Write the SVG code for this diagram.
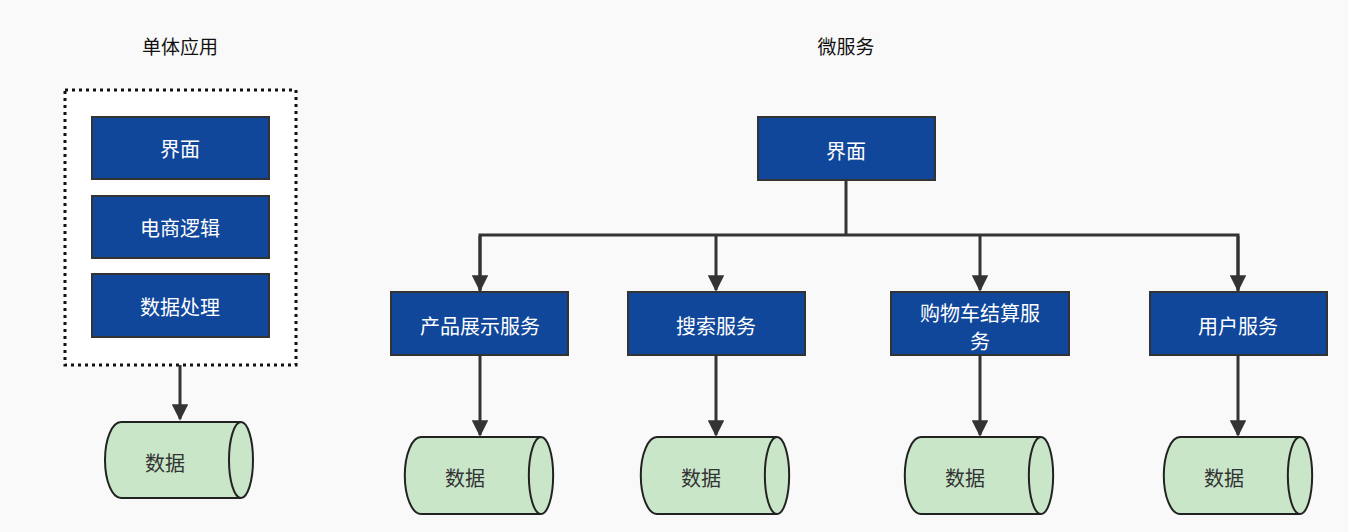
<svg xmlns="http://www.w3.org/2000/svg" width="1348" height="532" viewBox="0 0 1348 532">
<defs>
<style>
text{font-family:"Noto Sans CJK SC","Liberation Sans",sans-serif;font-size:20px;text-anchor:middle;dominant-baseline:central}
.b rect{fill:#10479a;stroke:#333;stroke-width:2}
.b text{fill:#fff}
.c path{fill:#c9e6c9;stroke:#222;stroke-width:2}
.c text{fill:#333}
.t{fill:#111;font-size:19px}
#conn path{fill:none;stroke:#333;stroke-width:3}
</style>
<marker id="a" viewBox="0 0 10 10" refX="9" refY="5" markerWidth="5.5" markerHeight="5.5" orient="auto" markerUnits="strokeWidth"><path d="M0,0L10,5L0,10z" fill="#333"/></marker>
</defs>
<rect width="1348" height="532" fill="#f9f9f9"/>
<text class="t" x="180" y="45">单体应用</text>
<text class="t" x="846" y="45">微服务</text>
<rect id="mono" x="65" y="90" width="231" height="275" fill="#fff" stroke="#111" stroke-width="3" stroke-dasharray="3,4"/>
<g id="conn">
<path d="M180,365V419" marker-end="url(#a)"/>
<path d="M846,180V235"/>
<path d="M480,292V235H1238V292" />
<path d="M480,236V290" marker-end="url(#a)"/>
<path d="M716,236V290" marker-end="url(#a)"/>
<path d="M980,236V290" marker-end="url(#a)"/>
<path d="M1238,236V290" marker-end="url(#a)"/>
<path d="M480,355V435" marker-end="url(#a)"/>
<path d="M716,355V435" marker-end="url(#a)"/>
<path d="M980,355V435" marker-end="url(#a)"/>
<path d="M1238,355V435" marker-end="url(#a)"/>
</g>
<g id="m1" class="b"><rect x="92" y="117" width="177" height="62"/><text x="180" y="148">界面</text></g>
<g id="m2" class="b"><rect x="92" y="196" width="177" height="62"/><text x="180" y="227">电商逻辑</text></g>
<g id="m3" class="b"><rect x="92" y="274" width="177" height="63"/><text x="180" y="306">数据处理</text></g>
<g id="db0" class="c"><path d="M121,422H241A12,38 0 0 1 241,498H121A16,38 0 0 1 121,422Z"/><path d="M241,422A12,38 0 0 0 241,498"/><text x="165" y="462">数据</text></g>
<g id="ui" class="b"><rect x="758" y="117" width="177" height="63"/><text x="846" y="150">界面</text></g>
<g id="s1" class="b"><rect x="391" y="292" width="177" height="63"/><text x="480" y="325">产品展示服务</text></g>
<g id="s2" class="b"><rect x="628" y="292" width="177" height="63"/><text x="716" y="325">搜索服务</text></g>
<g id="s3" class="b"><rect x="891" y="292" width="178" height="63"/><text x="980" y="312">购物车结算服</text><text x="980" y="340">务</text></g>
<g id="s4" class="b"><rect x="1150" y="292" width="177" height="63"/><text x="1238" y="325">用户服务</text></g>
<g id="db1" class="c"><path d="M421,437H541A12,38 0 0 1 541,514H421A16,38 0 0 1 421,437Z"/><path d="M541,437A12,38 0 0 0 541,514"/><text x="465" y="477">数据</text></g>
<g id="db2" class="c"><path d="M657,437H777A12,38 0 0 1 777,514H657A16,38 0 0 1 657,437Z"/><path d="M777,437A12,38 0 0 0 777,514"/><text x="701" y="477">数据</text></g>
<g id="db3" class="c"><path d="M921,437H1041A12,38 0 0 1 1041,514H921A16,38 0 0 1 921,437Z"/><path d="M1041,437A12,38 0 0 0 1041,514"/><text x="965" y="477">数据</text></g>
<g id="db4" class="c"><path d="M1180,437H1300A12,38 0 0 1 1300,514H1180A16,38 0 0 1 1180,437Z"/><path d="M1300,437A12,38 0 0 0 1300,514"/><text x="1224" y="477">数据</text></g>
</svg>
